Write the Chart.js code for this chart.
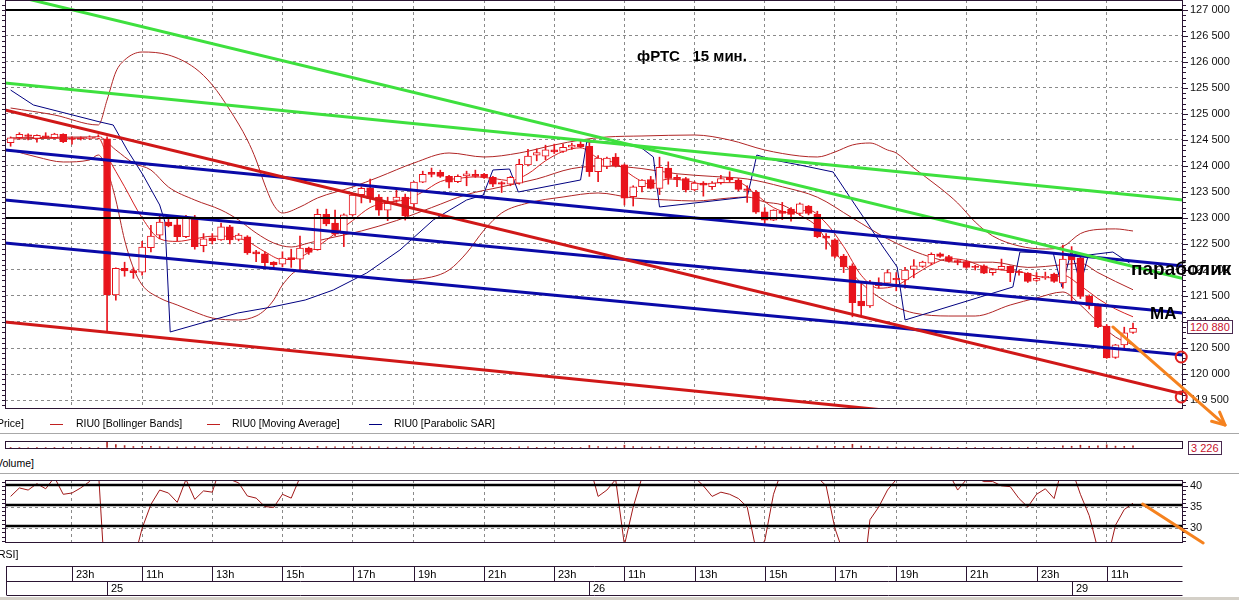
<!DOCTYPE html>
<html><head><meta charset="utf-8">
<script src="https://cdn.jsdelivr.net/npm/chart.js@4/dist/chart.umd.min.js"></script>
<style>
html,body{margin:0;padding:0;background:#fff;width:1239px;height:600px;overflow:hidden;font-family:"Liberation Sans",Arial,sans-serif;}
canvas{position:absolute;left:0;}
.t{position:absolute;font-size:10.5px;color:#000;white-space:nowrap;line-height:12px;z-index:5;}
.sep{position:absolute;left:0;width:1239px;height:1px;background:#a8a8a8;}
.lg{position:absolute;width:13px;height:1px;top:424px;z-index:5;}
.box{position:absolute;font-size:11px;line-height:12px;border:1px solid #4a2a50;background:#fff;padding:0 2px;z-index:6;white-space:nowrap;}
.note{position:absolute;font-weight:bold;color:#000;white-space:nowrap;z-index:7;}
</style></head><body>
<canvas id="mainChart" style="top:0" width="1239" height="433"></canvas>
<canvas id="volChart" style="top:436px" width="1239" height="16"></canvas>
<canvas id="rsiChart" style="top:470px" width="1239" height="130"></canvas>
<div class="sep" style="top:433px"></div>
<div class="sep" style="top:473px"></div>
<div style="position:absolute;left:0;top:597px;width:1239px;height:3px;background:#d4d0c8"></div>
<div class="t" style="left:-3px;top:417px">Price]</div>
<div class="lg" style="left:50px;background:#c02020"></div>
<div class="t" style="left:76px;top:417px">RIU0 [Bollinger Bands]</div>
<div class="lg" style="left:207px;background:#c02020"></div>
<div class="t" style="left:232px;top:417px">RIU0 [Moving Average]</div>
<div class="lg" style="left:369px;background:#000080"></div>
<div class="t" style="left:394px;top:417px">RIU0 [Parabolic SAR]</div>
<div class="t" style="left:-4px;top:457px">Volume]</div>
<div class="t" style="left:-2px;top:548px">RSI]</div>
<div class="note" id="title" style="left:637px;top:47px;font-size:15px">фРТС&nbsp;&nbsp;&nbsp;15 мин.</div>
<div class="note" style="left:1131px;top:258px;font-size:19px">параболик</div>
<div class="note" style="left:1150px;top:304px;font-size:17px">MA</div>
<div class="box" id="lastPriceBox" style="left:1187px;top:320px;color:#c8102e"></div>
<div class="box" id="lastVolBox" style="left:1188px;top:441px;color:#c8102e"></div>
<script>
// ---------- DATA ----------
const opens  = [124450,124545,124600,124530,124580,124545,124610,124530,124540,124530,124540,124520,121520,122030,121990,121960,122430,122670,122920,122870,122640,123000,122470,122620,122580,122830,122590,122640,122350,122310,122150,122110,122240,122210,122420,122390,123070,122900,122705,123060,123450,123580,123400,123150,123340,123400,123270,123690,123880,123880,123800,123700,123810,123840,123840,123780,123680,123650,123670,124020,124210,124190,124310,124280,124360,124420,124380,123890,123990,124170,124020,123410,123600,123740,123570,123960,123780,123760,123540,123670,123600,123680,123780,123730,123560,123500,123120,122960,123130,123170,123090,123230,123070,122650,122580,122270,122080,121400,121310,121700,121745,121840,121810,122010,122070,122130,122310,122260,122180,122160,122070,122080,121950,122010,122070,121970,121940,121800,121850,121920,121750,122300,122230,121500,121310,120920,120320,120560,120800];
const highs  = [124560,124640,124620,124600,124640,124630,124620,124560,124560,124580,124600,124560,122040,122150,122040,122550,122860,123050,123050,123000,123050,123050,122700,122700,122900,122860,122700,122660,122380,122350,122160,122350,122400,122650,122440,123170,123170,123150,123080,123460,123600,123750,123450,123400,123560,123460,123700,123900,123960,123920,123820,123830,123900,123920,123860,123800,123700,123800,124130,124320,124330,124400,124420,124420,124440,124480,124500,124200,124170,124240,124040,123620,123740,123800,124170,124080,123830,123780,123700,123700,123700,123820,123890,123760,123620,123530,123200,123160,123300,123200,123290,123240,123130,122700,122600,122300,122120,121750,121800,121850,122000,121950,122050,122200,122170,122330,122330,122280,122200,122170,122090,122100,122020,122210,122080,122000,121950,121950,121960,121940,122480,122450,122300,121520,121350,120950,120570,120900,120980];
const lows   = [124380,124520,124500,124460,124540,124530,124450,124420,124500,124510,124520,120800,121420,121880,121840,121900,122350,122600,122830,122560,122620,122400,122350,122500,122570,122500,122560,122300,122160,122040,122030,122060,122050,122000,122300,122380,122850,122660,122450,123040,123290,123300,123050,122950,123300,122960,123200,123680,123790,123780,123580,123680,123620,123780,123760,123600,123490,123620,123650,124000,124100,124120,124240,124260,124320,124350,123800,123700,123950,123980,123250,123230,123500,123560,123450,123650,123600,123500,123520,123420,123550,123650,123700,123520,123300,123090,122900,122950,122970,122940,123050,123060,122620,122400,122230,121950,121100,121100,121280,121650,121700,121600,121650,121850,122050,122100,122240,122150,122100,122030,122000,121930,121900,122000,121775,121900,121760,121780,121820,121760,121650,121400,121450,121250,120890,120300,120300,120500,120780];
const closes = [124540,124610,124570,124590,124550,124615,124470,124510,124520,124550,124560,121520,122030,121980,121950,122440,122650,122920,122850,122640,123000,122450,122600,122560,122830,122580,122670,122330,122310,122140,122100,122230,122200,122420,122340,123070,122885,122690,123060,123440,123570,123370,123150,123280,123400,123040,123690,123840,123840,123800,123690,123800,123850,123800,123780,123650,123650,123780,124030,124190,124260,124310,124270,124360,124400,124370,123890,124150,124150,124000,123380,123600,123730,123570,123975,123760,123740,123540,123670,123630,123670,123760,123730,123550,123530,123110,122960,123150,123090,123070,123270,123090,122640,122610,122260,122060,121370,121310,121760,121760,121950,121810,122000,122080,122150,122300,122260,122170,122150,122050,122050,121940,122010,122070,121950,121950,121780,121840,121880,121780,122210,122200,121490,121310,120910,120310,120560,120790,120880];
const volumes = [900,700,800,600,700,900,1200,800,600,500,700,30000,5200,3600,2200,2600,2400,1900,1500,1600,1500,2100,1600,1200,1400,1500,1100,1800,1300,1600,1100,1200,1100,1500,1000,2600,1800,1700,1900,2200,1600,1900,1700,1300,1200,1800,2000,1500,1100,1000,1100,900,1000,900,800,1100,1000,900,1700,1600,1000,1100,900,900,800,900,3800,2200,1400,1300,4200,2100,1400,1300,2300,1700,1200,1300,1000,1100,900,1000,1000,1300,1200,2800,2000,1500,1200,1300,1400,1200,3300,1700,2600,2400,5600,3000,2600,1700,1600,1400,1500,1300,1000,1300,900,900,800,1000,800,1000,800,900,1100,700,1100,800,700,900,3400,2600,4200,2600,3400,4800,2800,2500,3226];
const rsiValues = [37.5,39.5,39,40.5,39.3,42,38,38.3,39.5,41,44,10,18,20,22,30,35.6,39,38.3,36.1,41.5,36.8,38.8,38.5,45,41.5,40.7,37.6,37.1,35.1,34.9,38,37.1,42,43,50,47,44,49,54,56,51,47,48,49,44,52,56,55,54,51,52,53,52,51,47,46,48,54,57,58,59,58,59,60,58,45,37.5,39,41.5,26,35,42,44,48,46,45,44,42,40,37.5,38.5,38,37,35,25,27,38,44,45,48,45,42,40,30,24,14,14,32,35,39,41.5,43,45,48,47,44,43,39,41.5,42,41,41,40,39.8,37,35,38,39.3,37,45,44,38,33,25,22,30.7,34.4,35.9];

const hourTickIdx = [7,15,23,31,39,46,54,62,70,78,86,94,101,109,117,125];
const hourLabels  = ['23h','11h','13h','15h','17h','19h','21h','23h','11h','13h','15h','17h','19h','21h','23h','11h'];
const dayStartIdx = [11,66,121];
const dayLabels   = ['25','26','29'];
const priceTicks  = [119500,120000,120500,121000,121500,122000,122500,123000,123500,124000,124500,125000,125500,126000,126500,127000];
const rsiTicks    = [30,35,40];

// indicators: [candle index, value]
const bbUpper = [[0,125115],[5,124981],[10,124789],[11,125269],[12,125808],[13,126038],[15,126192],[18,126135],[21,125885],[23,125558],[25,125077],[27,124500],[28,124115],[29,123635],[30,123250],[31,123096],[33,123212],[35,123385],[39,123596],[42,123788],[46,124058],[50,124250],[54,124173],[58,124250],[62,124404],[65,124500],[68,124558],[72,124577],[78,124596],[82,124500],[86,124308],[90,124192],[92,124173],[94,124269],[96,124404],[98,124442],[100,124308],[101,124250],[103,123962],[106,123577],[108,123288],[110,122923],[112,122654],[115,122462],[118,122404],[120,122450],[122,122700],[124,122780],[126,122790],[128,122750]];
const bbMiddle = [[0,124540],[10,124560],[12,124308],[14,124058],[16,123923],[18,123596],[21,123346],[24,123154],[26,122962],[28,122712],[30,122519],[32,122442],[34,122519],[36,122600],[40,122750],[44,122950],[48,123200],[52,123450],[56,123600],[60,123750],[64,123950],[68,124000],[72,123950],[76,123850],[80,123800],[84,123750],[88,123600],[92,123400],[96,123000],[100,122600],[104,122300],[108,122150],[112,122150],[116,122050],[120,122100],[122,122130],[124,121950],[126,121780],[128,121620]];
const bbLower = [[0,124308],[3,124173],[6,124077],[9,124115],[10,124212],[11,123923],[12,123346],[13,122577],[14,122039],[15,121712],[17,121462],[19,121327],[21,121192],[23,121077],[26,121039],[28,121115],[29,121231],[30,121423],[31,121712],[33,122000],[36,121942],[40,121865],[44,121808],[48,121865],[50,122000],[52,122327],[54,122769],[56,123096],[59,123288],[63,123404],[67,123481],[71,123385],[75,123346],[78,123327],[82,123385],[84,123404],[86,123308],[88,123250],[90,123058],[92,122827],[93,122577],[95,122135],[97,121750],[99,121481],[101,121288],[103,121173],[107,121115],[110,121115],[114,121327],[117,121462],[120,121577],[122,121327],[124,121000],[126,120712],[128,120558]];
const maLine = [[0,124520],[10,124540],[11,124200],[13,123600],[15,123000],[17,122600],[19,122550],[21,122600],[23,122650],[25,122650],[27,122550],[29,122350],[31,122200],[33,122250],[35,122450],[37,122700],[39,122950],[41,123200],[43,123300],[45,123350],[47,123500],[49,123700],[51,123760],[53,123790],[55,123760],[57,123720],[59,123850],[61,124100],[63,124280],[65,124350],[67,124150],[69,124050],[71,123800],[73,123650],[75,123750],[77,123720],[79,123650],[81,123680],[83,123680],[85,123450],[87,123200],[89,123100],[91,123150],[93,122900],[95,122450],[97,121900],[99,121650],[101,121700],[103,121900],[105,122100],[107,122220],[109,122180],[111,122060],[113,122000],[115,121970],[117,121880],[119,121850],[120,121900],[122,121700],[124,121450],[126,121250],[128,121100]];
const sarLine = [[0,125460],[2.6,125173],[10.2,124846],[11.7,124788],[13.3,124308],[15.1,123827],[17,123250],[17.6,122923],[18.2,120808],[22.2,121000],[25.9,121173],[29.8,121288],[33.6,121423],[36.8,121615],[40.6,121942],[44.4,122385],[48.2,122962],[52,123346],[53.9,123442],[55,123923],[56.9,123942],[57.9,123500],[65,123731],[65.7,124462],[68,124462],[71.8,124365],[73.3,124173],[74,123212],[84,123404],[85.1,124211],[87,124115],[90,124019],[93.8,123885],[95.7,123404],[97.7,122904],[99.5,122442],[101.1,122058],[102,121038],[114.3,121673],[115.1,122346],[118.9,122327],[119.9,121673],[121,122385],[122,121711],[122.9,122288],[125.7,122346],[127.6,122135]];

// hand-drawn trend lines: [index, price] end points
const greenSteep   = [[-0.64,127317],[133.7,121835]];
const greenShallow = [[-0.64,125596],[133.7,123346]];
const redUpper     = [[-0.64,125077],[133.7,119615]];
const redLower     = [[-0.64,121000],[133.7,118731]];
const blueTop      = [[-0.64,124308],[133.7,122077]];
const blueMid      = [[-0.64,123346],[133.7,121173]];
const blueLow      = [[-0.64,122519],[133.7,120365]];
const priceLevels  = [127000,123000];
const rsiLevels    = [40.2,35.5,30.5];
const forecastArrow = [[125.7,120904],[138.5,119019]];
const targetMarks   = [[133.5,120327],[133.5,119558]];
const rsiArrow      = [[129.1,35.7],[136,26.5]];

// ---------- HELPERS ----------
const X_MIN = -0.64, X_MAX = 133.7;
const RED = '#e8141c';
const fmt = v => String(Math.round(v)).replace(/\B(?=(\d{3})+(?!\d))/g, ' ');
const pts = arr => arr.map(([x, y]) => ({x, y}));
const idx = opens.map((_, i) => i);

document.getElementById('lastPriceBox').textContent = fmt(closes[closes.length - 1]);
document.getElementById('lastVolBox').textContent = fmt(volumes[volumes.length - 1]);

const framePlugin = {
  id: 'frame',
  afterDraw(chart, args, o) {
    const {ctx, chartArea: a, scales} = chart;
    ctx.save();
    ctx.strokeStyle = '#2b1533';
    ctx.lineWidth = 1;
    ctx.strokeRect(a.left + 0.5, a.top + 0.5, a.right - a.left - 1, a.bottom - a.top - 1);
    if (o.minorStep) {
      const y = scales.y;
      ctx.beginPath();
      for (let v = Math.ceil(y.min / o.minorStep) * o.minorStep; v <= y.max; v += o.minorStep) {
        const py = Math.round(y.getPixelForValue(v)) + 0.5;
        const major = Math.abs(v % o.majorStep) < 1e-6;
        const len = major ? 5 : 3;
        ctx.moveTo(a.right, py); ctx.lineTo(a.right + len, py);
        ctx.moveTo(a.left, py); ctx.lineTo(a.left - 3, py);
      }
      ctx.stroke();
    }
    ctx.restore();
  }
};

const marksPlugin = {
  id: 'marks',
  afterDraw(chart, args, o) {
    const {ctx, scales: {x, y}} = chart;
    ctx.save();
    (o.arrows || []).forEach(a => {
      const x1 = x.getPixelForValue(a.pts[0][0]), y1 = y.getPixelForValue(a.pts[0][1]);
      const x2 = x.getPixelForValue(a.pts[1][0]), y2 = y.getPixelForValue(a.pts[1][1]);
      ctx.strokeStyle = a.color; ctx.lineWidth = a.width; ctx.lineCap = 'round';
      ctx.beginPath(); ctx.moveTo(x1, y1); ctx.lineTo(x2, y2); ctx.stroke();
      if (a.head) {
        const ang = Math.atan2(y2 - y1, x2 - x1);
        ctx.beginPath();
        ctx.moveTo(x2, y2); ctx.lineTo(x2 - 14 * Math.cos(ang - 0.45), y2 - 14 * Math.sin(ang - 0.45));
        ctx.moveTo(x2, y2); ctx.lineTo(x2 - 14 * Math.cos(ang + 0.45), y2 - 14 * Math.sin(ang + 0.45));
        ctx.stroke();
      }
    });
    (o.circles || []).forEach(c => {
      ctx.strokeStyle = c.color; ctx.lineWidth = 2;
      ctx.beginPath(); ctx.arc(x.getPixelForValue(c.p[0]), y.getPixelForValue(c.p[1]), 5.5, 0, Math.PI * 2); ctx.stroke();
    });
    ctx.restore();
  }
};

const timeAxisPlugin = {
  id: 'timeAxis',
  afterDraw(chart) {
    const {ctx} = chart;
    const xs = chart.scales.x;
    const top = 566 - 470, mid = 581 - 470, bot = 595 - 470;
    const L = xs.left + 1.5, R = xs.right - 0.5;
    ctx.save();
    ctx.strokeStyle = '#2b1533'; ctx.lineWidth = 1;
    ctx.beginPath();
    ctx.moveTo(L, top + 0.5); ctx.lineTo(R, top + 0.5);
    ctx.moveTo(L, mid + 0.5); ctx.lineTo(R, mid + 0.5);
    ctx.moveTo(L, bot + 0.5); ctx.lineTo(R, bot + 0.5);
    ctx.moveTo(L, top); ctx.lineTo(L, bot);
    hourTickIdx.forEach(i => { const px = Math.round(xs.getPixelForValue(i)) + 0.5; ctx.moveTo(px, top); ctx.lineTo(px, mid); });
    dayStartIdx.forEach(i => { const px = Math.round(xs.getPixelForValue(i)) + 0.5; ctx.moveTo(px, mid); ctx.lineTo(px, bot); });
    ctx.stroke();
    ctx.fillStyle = '#000';
    ctx.font = '11px "Liberation Sans", Arial, sans-serif';
    ctx.textBaseline = 'middle';
    hourTickIdx.forEach((i, k) => ctx.fillText(hourLabels[k], Math.round(xs.getPixelForValue(i)) + 4, (top + mid) / 2 + 1));
    dayStartIdx.forEach((i, k) => ctx.fillText(dayLabels[k], Math.round(xs.getPixelForValue(i)) + 4, (mid + bot) / 2 + 1));
    ctx.restore();
  }
};

const gridColor = '#8a8a8a';
function xScale() {
  return {
    type: 'linear', min: X_MIN, max: X_MAX, offset: false,
    grid: {color: gridColor, drawTicks: false, offset: false},
    border: {display: false, dash: [3, 3]},
    ticks: {display: false},
    afterBuildTicks: s => { s.ticks = hourTickIdx.map(v => ({value: v})); },
    afterFit: s => { s.height = 0; s.paddingLeft = 0; s.paddingRight = 0; }
  };
}
function yScale(min, max, ticks, showLabels) {
  return {
    type: 'linear', position: 'right', min, max,
    grid: {color: gridColor, drawTicks: false},
    border: {display: false, dash: [3, 3]},
    ticks: {display: showLabels, padding: 7, color: '#111', font: {family: '"Liberation Sans", Arial, sans-serif', size: 11}, callback: v => fmt(v)},
    afterBuildTicks: s => { s.ticks = ticks.map(v => ({value: v})); },
    afterFit: s => { s.width = 56; s.paddingTop = 0; s.paddingBottom = 0; }
  };
}
const lineDs = (data, color, width, order, smooth) => ({
  type: 'line', data: pts(data), borderColor: color, borderWidth: width,
  pointRadius: 0, order, fill: false,
  cubicInterpolationMode: smooth ? 'monotone' : 'default', tension: 0
});

// ---------- MAIN CHART ----------
const PRICE_MIN = 119327, PRICE_MAX = 127192;
new Chart(document.getElementById('mainChart'), {
  data: {
    datasets: [
      lineDs(bbUpper, '#b02525', 1, 9, true),
      lineDs(bbMiddle, '#b02525', 1, 9, true),
      lineDs(bbLower, '#b02525', 1, 9, true),
      lineDs(maLine, '#d42020', 1, 9, true),
      lineDs(sarLine, '#000080', 1, 8, false),
      {type: 'bar', data: idx.map(i => ({x: i, y: [lows[i], highs[i]]})), backgroundColor: RED, barThickness: 1, grouped: false, order: 7},
      {type: 'bar', data: idx.map(i => ({x: i, y: [opens[i], closes[i]]})),
        backgroundColor: idx.map(i => closes[i] >= opens[i] ? '#ffffff' : RED),
        borderColor: RED, borderWidth: 1, borderSkipped: false, barThickness: 7, grouped: false, order: 6, minBarLength: 1},
      lineDs(redLower, '#d01818', 3, 2),
      lineDs(redUpper, '#d01818', 3, 2),
      lineDs(blueTop, '#0a0aa8', 3, 2),
      lineDs(blueMid, '#0a0aa8', 3, 2),
      lineDs(blueLow, '#0a0aa8', 3, 2),
      lineDs(greenSteep, '#3ee03e', 3, 1),
      lineDs(greenShallow, '#3ee03e', 3, 1),
      ...priceLevels.map(v => lineDs([[X_MIN, v], [X_MAX, v]], '#000', 2, 0))
    ]
  },
  options: {
    responsive: false, animation: false, events: [],
    layout: {padding: {left: 5, top: 0, right: 0, bottom: 24}},
    scales: {x: xScale(), y: yScale(PRICE_MIN, PRICE_MAX, priceTicks, true)},
    plugins: {
      legend: {display: false}, tooltip: {enabled: false},
      frame: {minorStep: 100, majorStep: 500},
      marks: {
        arrows: [{pts: forecastArrow, color: '#f5821f', width: 3, head: true}],
        circles: targetMarks.map(p => ({p, color: '#e02020'}))
      }
    }
  },
  plugins: [framePlugin, marksPlugin]
});

// ---------- VOLUME ----------
new Chart(document.getElementById('volChart'), {
  data: {datasets: [{type: 'bar', data: idx.map(i => ({x: i, y: volumes[i]})), backgroundColor: '#b02525', barThickness: 1, grouped: false}]},
  options: {
    responsive: false, animation: false, events: [],
    layout: {padding: {left: 5, top: 5, right: 0, bottom: 3}},
    scales: {x: xScale(), y: yScale(-1500, 10500, [0], false)},
    plugins: {legend: {display: false}, tooltip: {enabled: false}, frame: {}}
  },
  plugins: [framePlugin]
});

// ---------- RSI ----------
new Chart(document.getElementById('rsiChart'), {
  data: {
    datasets: [
      lineDs(idx.map(i => [i, rsiValues[i]]), '#a01818', 1, 3, false),
      ...rsiLevels.map(v => lineDs([[X_MIN, v], [X_MAX, v]], '#000', 2.5, 0))
    ]
  },
  options: {
    responsive: false, animation: false, events: [],
    layout: {padding: {left: 5, top: 10, right: 0, bottom: 57}},
    scales: {x: xScale(), y: yScale(26.51, 41.37, rsiTicks, true)},
    plugins: {
      legend: {display: false}, tooltip: {enabled: false},
      frame: {minorStep: 1, majorStep: 5},
      marks: {arrows: [{pts: rsiArrow, color: '#f5821f', width: 3, head: false}]}
    }
  },
  plugins: [framePlugin, marksPlugin, timeAxisPlugin]
});
</script>
</body></html>
